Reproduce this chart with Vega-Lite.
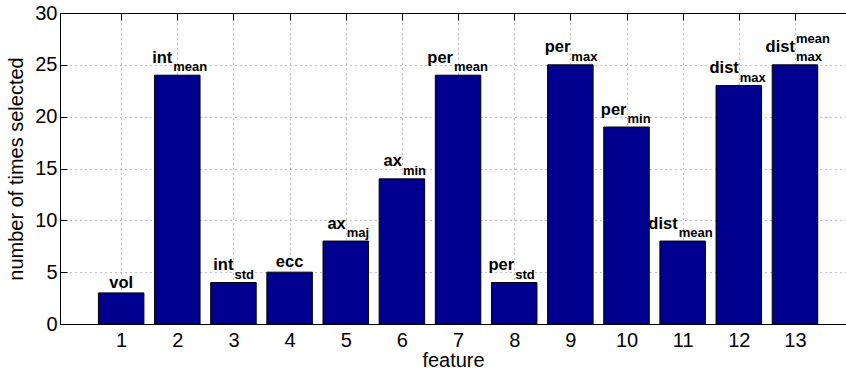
{
  "$schema": "https://vega.github.io/schema/vega-lite/v6.json",
  "width": 786,
  "height": 311,
  "autosize": "none",
  "padding": {"left": 60, "top": 13, "right": 0, "bottom": 49},
  "background": "white",
  "config": {
    "view": {"stroke": null},
    "font": "Liberation Sans",
    "axis": {
      "domainColor": "black",
      "domainWidth": 1,
      "tickColor": "black",
      "tickWidth": 1,
      "labelColor": "black",
      "labelFont": "Liberation Sans",
      "labelFontSize": 20,
      "titleFont": "Liberation Sans",
      "titleFontSize": 20,
      "titleFontWeight": "normal",
      "titleColor": "black",
      "gridColor": "#808080",
      "gridDash": [1, 4],
      "gridWidth": 1
    }
  },
  "data": {
    "values": [
      {"feature": 1, "count": 3, "base": "vol", "sub": "", "sup": ""},
      {"feature": 2, "count": 24, "base": "int", "sub": "mean", "sup": ""},
      {"feature": 3, "count": 4, "base": "int", "sub": "std", "sup": ""},
      {"feature": 4, "count": 5, "base": "ecc", "sub": "", "sup": ""},
      {"feature": 5, "count": 8, "base": "ax", "sub": "maj", "sup": ""},
      {"feature": 6, "count": 14, "base": "ax", "sub": "min", "sup": ""},
      {"feature": 7, "count": 24, "base": "per", "sub": "mean", "sup": ""},
      {"feature": 8, "count": 4, "base": "per", "sub": "std", "sup": ""},
      {"feature": 9, "count": 25, "base": "per", "sub": "max", "sup": ""},
      {"feature": 10, "count": 19, "base": "per", "sub": "min", "sup": ""},
      {"feature": 11, "count": 8, "base": "dist", "sub": "mean", "sup": ""},
      {"feature": 12, "count": 23, "base": "dist", "sub": "max", "sup": ""},
      {"feature": 13, "count": 25, "base": "dist", "sub": "max", "sup": "mean"}
    ]
  },
  "layer": [
    {
      "mark": {"type": "bar", "width": 45.5, "fill": "#00008F", "stroke": "black", "strokeWidth": 1, "opacity": 1},
      "encoding": {
        "x": {
          "field": "feature",
          "type": "quantitative",
          "scale": {"domain": [0, 13.82], "nice": false, "zero": false},
          "axis": {
            "orient": "bottom",
            "values": [1, 2, 3, 4, 5, 6, 7, 8, 9, 10, 11, 12, 13],
            "grid": true,
            "tickSize": -7,
            "labelPadding": 13,
            "title": "feature",
            "titlePadding": 0
          }
        },
        "y": {
          "field": "count",
          "type": "quantitative",
          "scale": {"domain": [0, 30], "nice": false},
          "axis": {
            "orient": "left",
            "values": [0, 5, 10, 15, 20, 25, 30],
            "grid": true,
            "tickSize": -7,
            "labelPadding": 10,
            "title": "number of times selected",
            "titlePadding": 8
          }
        }
      }
    },
    {
      "transform": [{"filter": "datum.sub == ''"}],
      "mark": {"type": "text", "align": "center", "baseline": "alphabetic", "dy": -5, "fontSize": 16.5, "fontWeight": "bold", "color": "black"},
      "encoding": {
        "text": {"field": "base"},
        "x": {
          "field": "feature",
          "type": "quantitative",
          "axis": {
            "orient": "top",
            "values": [1, 2, 3, 4, 5, 6, 7, 8, 9, 10, 11, 12, 13],
            "grid": false,
            "labels": false,
            "tickSize": -7,
            "title": null
          }
        },
        "y": {"field": "count", "type": "quantitative", "axis": null}
      }
    },
    {
      "transform": [{"filter": "datum.sub == 'mean'"}],
      "mark": {"type": "text", "align": "right", "baseline": "alphabetic", "dx": -5, "dy": -12.5, "fontSize": 16.5, "fontWeight": "bold", "color": "black"},
      "encoding": {
        "text": {"field": "base"},
        "x": {"field": "feature", "type": "quantitative", "axis": null},
        "y": {"field": "count", "type": "quantitative", "axis": null}
      }
    },
    {
      "transform": [{"filter": "datum.sub != '' && datum.sub != 'mean'"}],
      "mark": {"type": "text", "align": "right", "baseline": "alphabetic", "dx": 0, "dy": -12.5, "fontSize": 16.5, "fontWeight": "bold", "color": "black"},
      "encoding": {
        "text": {"field": "base"},
        "x": {"field": "feature", "type": "quantitative", "axis": null},
        "y": {"field": "count", "type": "quantitative", "axis": null}
      }
    },
    {
      "transform": [{"filter": "datum.sub == 'mean'"}],
      "mark": {"type": "text", "align": "left", "baseline": "alphabetic", "dx": -4, "dy": -4, "fontSize": 13, "fontWeight": "bold", "color": "black"},
      "encoding": {
        "text": {"field": "sub"},
        "x": {"field": "feature", "type": "quantitative", "axis": null},
        "y": {"field": "count", "type": "quantitative", "axis": null}
      }
    },
    {
      "transform": [{"filter": "datum.sub != '' && datum.sub != 'mean'"}],
      "mark": {"type": "text", "align": "left", "baseline": "alphabetic", "dx": 1, "dy": -4, "fontSize": 13, "fontWeight": "bold", "color": "black"},
      "encoding": {
        "text": {"field": "sub"},
        "x": {"field": "feature", "type": "quantitative", "axis": null},
        "y": {"field": "count", "type": "quantitative", "axis": null}
      }
    },
    {
      "transform": [{"filter": "datum.sup != ''"}],
      "mark": {"type": "text", "align": "left", "baseline": "alphabetic", "dx": 1, "dy": -22, "fontSize": 13, "fontWeight": "bold", "color": "black"},
      "encoding": {
        "text": {"field": "sup"},
        "x": {"field": "feature", "type": "quantitative", "axis": null},
        "y": {"field": "count", "type": "quantitative", "axis": null}
      }
    }
  ],
  "resolve": {"axis": {"x": "independent", "y": "independent"}}
}
